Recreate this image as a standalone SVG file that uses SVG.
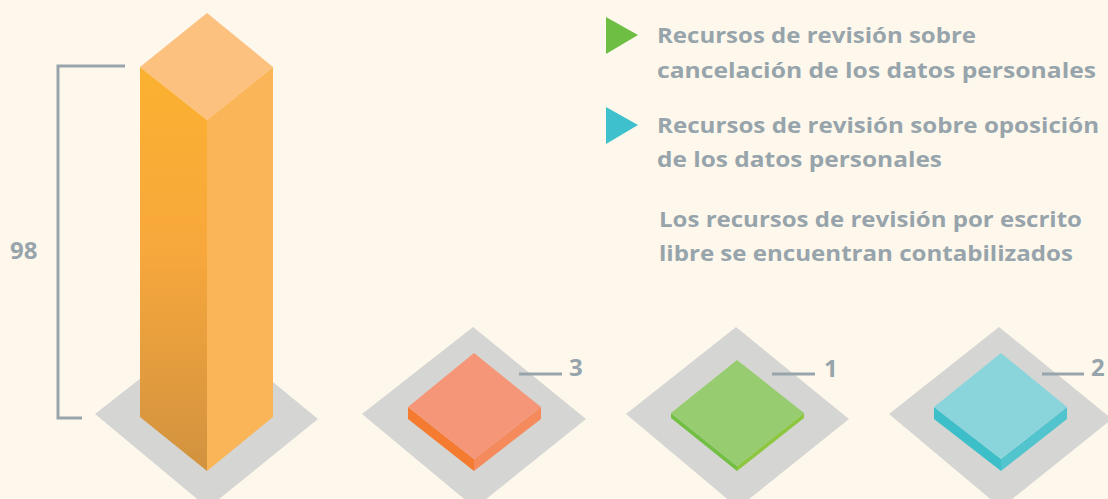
<svg xmlns="http://www.w3.org/2000/svg" width="1108" height="499" viewBox="0 0 1108 499">
<defs>
<linearGradient id="gLeft" x1="0" y1="0" x2="0" y2="1">
<stop offset="0" stop-color="#fbb130"/>
<stop offset="0.45" stop-color="#f8a83c"/>
<stop offset="1" stop-color="#d1923f"/>
</linearGradient>
<style>
.shadow{fill:#d5d6d3}
.txt{font-family:"Open Sans","Liberation Sans",sans-serif;font-weight:700;fill:#97a4ab}
.leg{font-size:21px}
.num{font-size:24px}
.tick{stroke:#97a4ab;stroke-width:3;fill:none}
</style>
</defs>
<rect width="1108" height="499" fill="#fef8ec"/>

<g id="bar-98">
<polygon class="shadow" points="206,327 318,419 208,508 95,414"/>
<polygon points="207,13 273,67 207,120 140,67" fill="#fcc07f"/>
<polygon points="140,67 207,120 207,471 140,417" fill="url(#gLeft)"/>
<polygon points="207,120 273,67 273,417 207,471" fill="#f9b557"/>
<polyline class="tick" stroke-width="2.5" points="125,66 58,66 58,418 82,418"/>
<text class="txt num" x="10" y="259">98</text>
</g>

<g id="bar-cancelacion">
<polygon class="shadow" points="473,327 586,419 475,508 362,414"/>
<polygon points="408,407 474,459 474,471 408,419" fill="#f47b2f"/>
<polygon points="474,459 541,407 541,419 474,471" fill="#f58a5c"/>
<polygon points="474,353 541,407 474,459 408,407" fill="#f59679"/>
<line class="tick" x1="519" y1="374" x2="562" y2="374"/>
<text class="txt num" x="569" y="376">3</text>
</g>

<g id="bar-1">
<polygon class="shadow" points="736,327 849,419 738,508 626,414"/>
<polygon points="671,413 737,466 737,471 671,418" fill="#72bf44"/>
<polygon points="737,466 804,413 804,418 737,471" fill="#8dc63f"/>
<polygon points="737,360 804,413 737,466 671,413" fill="#98cc70"/>
<line class="tick" x1="772" y1="374" x2="815" y2="374"/>
<text class="txt num" x="824" y="377">1</text>
</g>

<g id="bar-oposicion">
<polygon class="shadow" points="999,327 1112,419 1001,508 889,414"/>
<polygon points="934,407 1001,459 1001,471 934,419" fill="#3dbfc9"/>
<polygon points="1001,459 1067,407 1067,419 1001,471" fill="#52c4cd"/>
<polygon points="1001,353 1067,407 1001,459 934,407" fill="#8ad5dc"/>
<line class="tick" x1="1042" y1="374" x2="1084" y2="374"/>
<text class="txt num" x="1091" y="376">2</text>
</g>

<g id="legend">
<polygon points="606,17 638,35 606,54" fill="#6fbe44"/>
<text class="txt leg" x="657" y="43" textLength="319" lengthAdjust="spacingAndGlyphs">Recursos de revisión sobre</text>
<text class="txt leg" x="657" y="78" textLength="439" lengthAdjust="spacingAndGlyphs">cancelación de los datos personales</text>
<polygon points="606,107 638,125 606,144" fill="#3ec1cc"/>
<text class="txt leg" x="657" y="133" textLength="442" lengthAdjust="spacingAndGlyphs">Recursos de revisión sobre oposición</text>
<text class="txt leg" x="657" y="167" textLength="285" lengthAdjust="spacingAndGlyphs">de los datos personales</text>
<text class="txt leg" x="659" y="227" textLength="423" lengthAdjust="spacingAndGlyphs">Los recursos de revisión por escrito</text>
<text class="txt leg" x="659" y="261" textLength="414" lengthAdjust="spacingAndGlyphs">libre se encuentran contabilizados</text>
</g>
</svg>
